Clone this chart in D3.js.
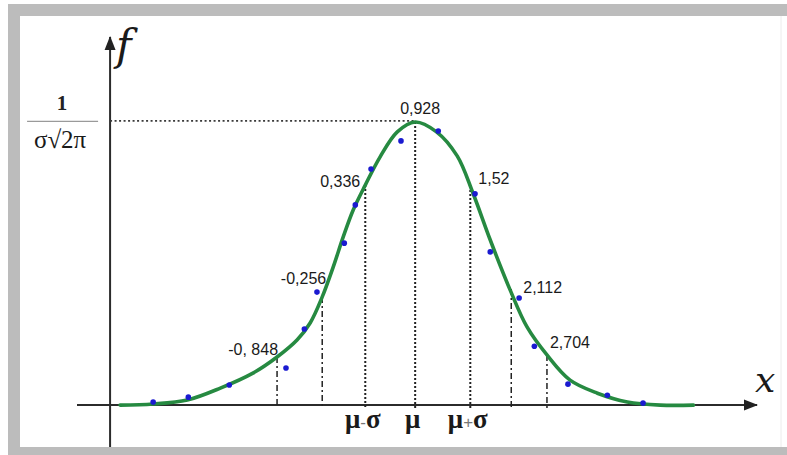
<!DOCTYPE html>
<html>
<head>
<meta charset="utf-8">
<script src="https://cdn.jsdelivr.net/npm/d3@7"></script>
<style>
body { margin: 0; background: #fff; }
svg { display: block; }
</style>
</head>
<body>
<svg id="chart" width="787" height="455"></svg>
<script>
// green curve: x in sigma steps from mu, y as share of the peak height
var curveX = [-5.62, -4.99, -4.34, -3.71, -3.09, -2.63, -2.25, -2.00, -1.77, -1.56, -1.37, -1.18, -0.95, -0.67, -0.34, 0,
              0.40, 0.80, 1.10, 1.43, 1.81, 2.13, 2.51, 2.95, 3.47, 4.04, 4.67, 5.30];
var curveY = [0, 0.004, 0.018, 0.060, 0.113, 0.170, 0.230, 0.290, 0.382, 0.488, 0.594, 0.689, 0.777, 0.876, 0.965, 1.0,
              0.966, 0.880, 0.749, 0.583, 0.406, 0.276, 0.177, 0.088, 0.042, 0.011, 0, 0];

// blue sample points
var dotX = [-4.99, -4.32, -3.54, -2.46, -2.11, -1.87, -1.35, -1.14, -0.84, -0.27, 0.44, 1.14, 1.43, 1.98, 2.27, 2.91, 3.66, 4.34];
var dotY = [0.011, 0.028, 0.071, 0.131, 0.269, 0.399, 0.572, 0.707, 0.834, 0.933, 0.968, 0.746, 0.541, 0.378, 0.208, 0.074, 0.035, 0.007];

// vertical marks under the curve and their values
var markX = [-2.63, -1.77, -0.95, 0, 1.05, 1.83, 2.51];
var markTop = [0.170, 0.382, 0.777, 1.0, 0.76, 0.41, 0.177];
var markLabels = ["-0, 848", "-0,256", "0,336", "0,928", "1,52", "2,112", "2,704"];

// labels on the x axis
var muX = [-0.95, 0, 1.05];
var muLabels = ["μ-σ", "μ", "μ+σ"];

var svg = d3.select("#chart");

// grey frame of the scan
svg.append("rect").attr("x", 8).attr("y", 4).attr("width", 779).attr("height", 12).attr("fill", "#bcbcbc");
svg.append("rect").attr("x", 8).attr("y", 4).attr("width", 12).attr("height", 451).attr("fill", "#bcbcbc");
svg.append("rect").attr("x", 8).attr("y", 447).attr("width", 779).attr("height", 8).attr("fill", "#bcbcbc");
svg.append("line").attr("x1", 781).attr("x2", 781).attr("y1", 16).attr("y2", 447).attr("stroke", "#ececec").attr("stroke-width", 1);

var x = d3.scaleLinear().domain([-6.44, 6.51]).range([77, 757]);
var y = d3.scaleLinear().domain([-0.148, 1.30]).range([447, 37]);
var axisX = -5.81; // where the f axis crosses

var defs = svg.append("defs");
defs.append("marker")
    .attr("id", "arrow")
    .attr("viewBox", "0 -6 14 12")
    .attr("refX", 13)
    .attr("refY", 0)
    .attr("markerWidth", 14)
    .attr("markerHeight", 12)
    .attr("markerUnits", "userSpaceOnUse")
    .attr("orient", "auto")
    .append("path")
    .attr("d", "M0,-5.5L14,0L0,5.5Z")
    .attr("fill", "#222");

// axis lines with arrows
svg.append("line")
    .attr("x1", x.range()[0]).attr("x2", x.range()[1])
    .attr("y1", y(0)).attr("y2", y(0))
    .attr("stroke", "#2b2b2b").attr("stroke-width", 2)
    .attr("marker-end", "url(#arrow)");
svg.append("line")
    .attr("x1", x(axisX)).attr("x2", x(axisX))
    .attr("y1", y.range()[0]).attr("y2", y.range()[1])
    .attr("stroke", "#2b2b2b").attr("stroke-width", 2)
    .attr("marker-end", "url(#arrow)");

// mu labels through a bottom axis
var gx = svg.append("g")
    .attr("transform", "translate(0," + y(0) + ")")
    .call(d3.axisBottom(x).tickValues(muX).tickSize(0).tickSizeOuter(0)
        .tickFormat(function (d, i) { return muLabels[i]; }));
gx.select(".domain").remove();
gx.selectAll(".tick text").each(function () {
    var t = d3.select(this);
    var s = t.text();
    t.text("").attr("y", 23).attr("dy", 0).attr("dx", -3)
        .attr("font-family", "'Liberation Serif', serif")
        .attr("fill", "#1a1a1a");
    for (var k = 0; k < s.length; k++) {
        var ch = s[k];
        if (ch == "-" || ch == "+") {
            t.append("tspan").text(ch).attr("font-size", 17).attr("fill", "#777")
                .attr("font-family", "'Liberation Sans', sans-serif");
        } else {
            t.append("tspan").text(ch).attr("font-size", 27).attr("font-weight", "bold");
        }
    }
});

// 1/(sigma sqrt(2 pi)) through a left axis tick
var gy = svg.append("g")
    .attr("transform", "translate(" + x(axisX) + ",0)")
    .call(d3.axisLeft(y).tickValues([1]).tickSize(0).tickSizeOuter(0).tickFormat(""));
gy.select(".domain").remove();
var tk = gy.select(".tick");
tk.append("line").attr("x1", -83).attr("x2", -12).attr("y1", -1).attr("y2", -1)
    .attr("stroke", "#9a9a9a").attr("stroke-width", 1.3);
tk.append("text").attr("x", -48).attr("y", -12).attr("text-anchor", "middle")
    .attr("font-family", "'Liberation Serif', serif").attr("font-size", 21)
    .attr("font-weight", "bold").attr("fill", "#222").text("1");
tk.append("text").attr("x", -50).attr("y", 26).attr("text-anchor", "middle")
    .attr("font-family", "'Liberation Serif', serif").attr("font-size", 25)
    .attr("fill", "#1a1a1a").text("σ√2π");

// axis names
svg.append("text").attr("x", 116).attr("y", 60)
    .attr("font-family", "'DejaVu Serif', serif").attr("font-style", "italic")
    .attr("font-size", 42).attr("fill", "#1a1a1a").text("f");
svg.append("text").attr("x", 755).attr("y", 392)
    .attr("font-family", "'DejaVu Serif', serif").attr("font-style", "italic")
    .attr("font-size", 36).attr("fill", "#1a1a1a").text("x");

// dotted line from the peak to the f axis
svg.append("line")
    .attr("x1", x(axisX)).attr("x2", x(0))
    .attr("y1", y(1) - 1).attr("y2", y(1) - 1)
    .attr("stroke", "#3a3a3a").attr("stroke-width", 1.8)
    .attr("stroke-dasharray", "2,2.5");

// vertical marks
var lineKind = ["dashdot", "dashdot", "dot", "dot", "dot", "dashdot", "dashdot"];
var labelNudge = [[1, -2, "end"], [4, -13, "end"], [-5, 2, "end"], [5, -8, "middle"], [8, -6, "start"], [12, 4, "start"], [3, -7, "start"]];

svg.selectAll(".mark")
    .data(markX)
    .enter()
    .append("line")
    .attr("class", "mark")
    .attr("x1", function (d) { return x(d); })
    .attr("x2", function (d) { return x(d); })
    .attr("y1", function (d, i) { return y(markTop[i]); })
    .attr("y2", y(0) + 3)
    .attr("stroke", "#222")
    .attr("stroke-width", function (d, i) { return lineKind[i] == "dot" ? 2 : 1.5; })
    .attr("stroke-dasharray", function (d, i) { return lineKind[i] == "dot" ? "2,2" : "6,3,2,3"; });

// the curve
var pts = curveX.map(function (d, i) { return [d, curveY[i]]; });
svg.append("path")
    .datum(pts)
    .attr("d", d3.line()
        .x(function (d) { return x(d[0]); })
        .y(function (d) { return y(d[1]); })
        .curve(d3.curveCatmullRom))
    .attr("fill", "none")
    .attr("stroke", "#268a41")
    .attr("stroke-width", 3.6)
    .attr("stroke-linecap", "round");

// blue points
svg.selectAll(".dot")
    .data(dotX)
    .enter()
    .append("circle")
    .attr("class", "dot")
    .attr("cx", function (d) { return x(d); })
    .attr("cy", function (d, i) { return y(dotY[i]); })
    .attr("r", 2.8)
    .attr("fill", "#1a1ad0");

// values at the marks
svg.selectAll(".mlabel")
    .data(markLabels)
    .enter()
    .append("text")
    .attr("class", "mlabel")
    .attr("x", function (d, i) { return x(markX[i]) + labelNudge[i][0]; })
    .attr("y", function (d, i) { return y(markTop[i]) + labelNudge[i][1]; })
    .attr("text-anchor", function (d, i) { return labelNudge[i][2]; })
    .attr("font-family", "'Liberation Sans', Arial, sans-serif")
    .attr("font-size", 16)
    .attr("fill", "#1a1a1a")
    .text(function (d) { return d; });
</script>
</body>
</html>
